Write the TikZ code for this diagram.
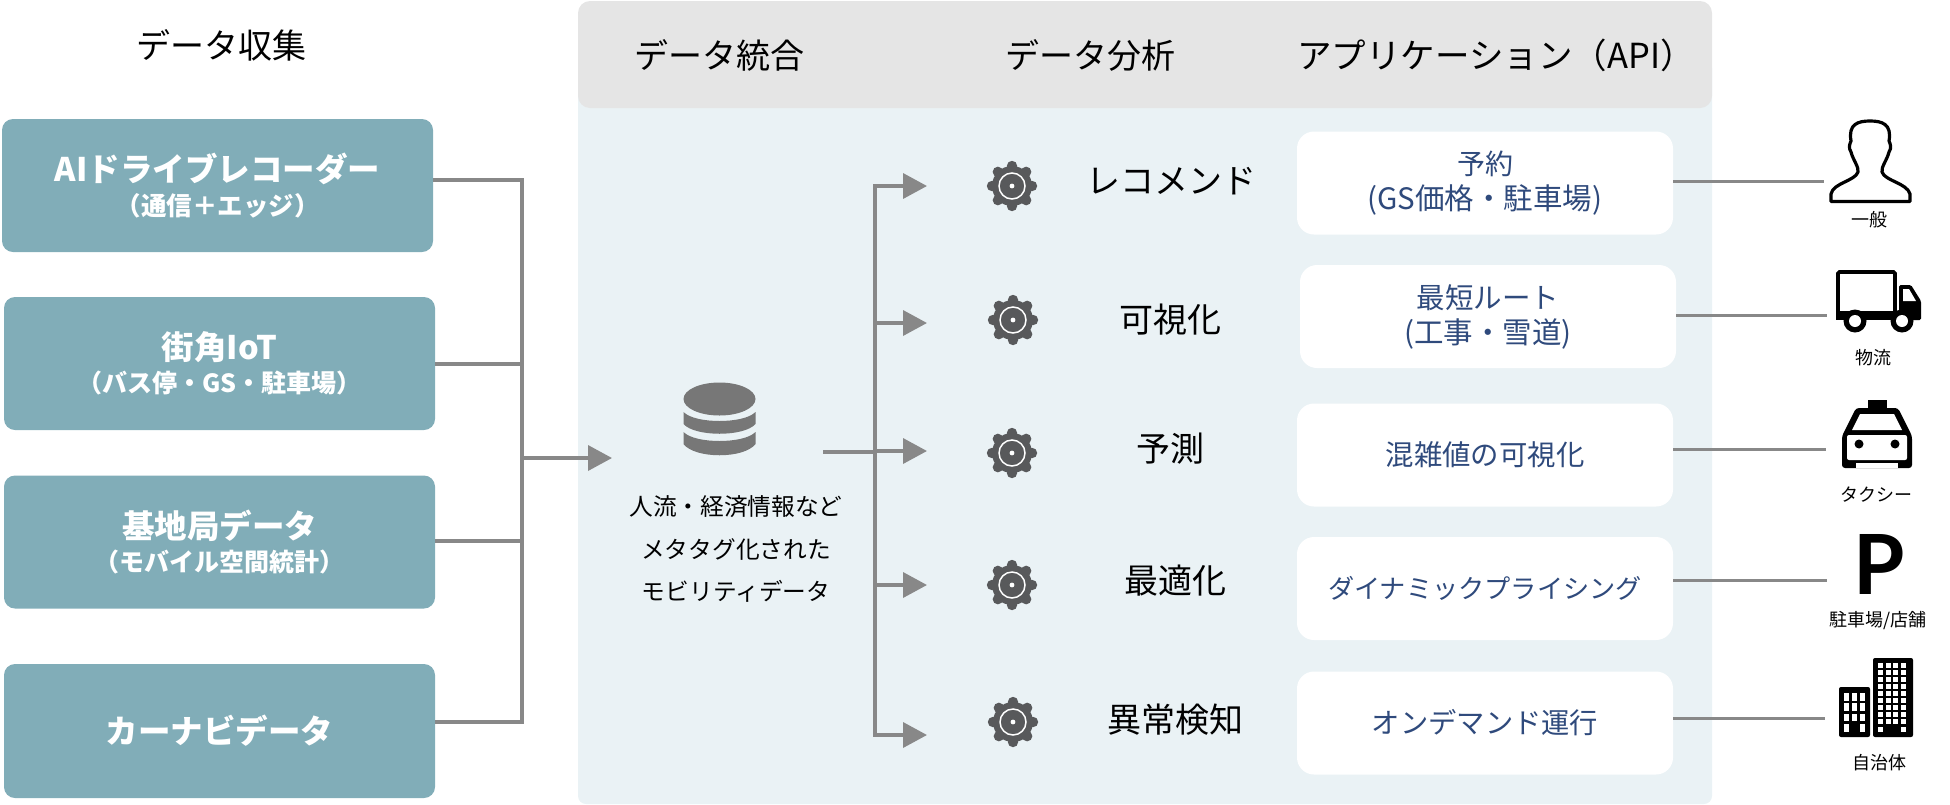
\documentclass[tikz,border=0pt]{standalone}
\usepackage{fontspec}
\setmainfont{Noto Sans CJK JP}
\newfontfamily\pfont{Lato}
\usetikzlibrary{arrows.meta}
\definecolor{teal1}{HTML}{81ADB8}
\definecolor{panel}{HTML}{EAF2F5}
\definecolor{head}{HTML}{E5E5E5}
\definecolor{conn}{HTML}{888888}
\definecolor{navy}{HTML}{2F4A7C}
\definecolor{gearc}{HTML}{58595B}
\definecolor{dbc}{HTML}{777777}
\newcommand{\fz}[2]{\fontsize{#1}{#2}\selectfont}
\tikzset{
  srcbox/.style={fill=teal1,rounded corners=11,minimum width=431,minimum height=133,inner sep=0,align=center,text=white,font=\bfseries},
  appbox/.style={fill=white,rounded corners=17,minimum width=376,minimum height=103,inner sep=0,align=center,text=navy},
  conn/.style={draw=conn,line width=3.6},
  thin conn/.style={draw=conn,line width=3},
  arrow/.style={conn,-{Triangle[length=24,width=25]}},
  title/.style={font=\fz{34}{40},text=black,inner sep=0},
  tag/.style={font=\fz{18}{22},text=black,inner sep=0},
  gearicon/.pic={
    \foreach \a in {0,45,...,315}{\fill[gearc] (\a:20) circle (5.2);}
    \fill[gearc] (0,0) circle (20);
    \draw[white,line width=1.5] (0,0) circle (13);
    \fill[white] (0,0) circle (2.4);
  }
}
\begin{document}
\begin{tikzpicture}[x=1pt,y=-1pt]
\useasboundingbox (0,0) rectangle (1950,804);
% panel
\fill[panel,rounded corners=8] (578,60) rectangle (1712,804);
\fill[head,rounded corners=12] (578,1) rectangle (1712,108);
% titles
\node[title] (t1) at (221,45) {データ収集};
\node[title] (t2) at (719,55) {データ統合};
\node[title] (t3) at (1090,55) {データ分析};
\node[title,font=\fz{34.5}{40}] (t4) at (1496,55) {アプリケーション（API）};
% source boxes
\node[srcbox] (s1) at (217.5,185.5) {\fz{32.5}{36}AIドライブレコーダー\\[7pt]\fz{25.5}{36}（通信＋エッジ）};
\node[srcbox] (s2) at (219.5,363.5) {\fz{32.5}{36}街角IoT\\[7pt]\fz{25}{36}（バス停・GS・駐車場）};
\node[srcbox] (s3) at (219.5,542) {\fz{32.5}{36}基地局データ\\[7pt]\fz{25}{36}（モバイル空間統計）};
\node[srcbox,minimum height=134] (s4) at (219.5,731) {\fz{32.5}{36}カーナビデータ};
% collector
\coordinate (c1) at (522,180);
\coordinate (c2) at (522,364);
\coordinate (c3) at (522,541);
\coordinate (c4) at (522,722);
\coordinate (cm) at (522,458);
\coordinate (ci) at (612,458);
\draw[conn] (s1.east |- c1) -- (c1) -- (c4) -- (s4.east |- c4);
\draw[conn] (s2.east |- c2) -- (c2);
\draw[conn] (s3.east |- c3) -- (c3);
\draw[arrow] (cm) -- (ci);
% database
\fill[dbc] (719.5,399) ellipse (36 and 16.5);
\fill[dbc] (683.5,412) .. controls (695,424) and (744,424) .. (755.5,412) -- (755.5,424) .. controls (744,437) and (695,437) .. (683.5,424) -- cycle;
\fill[dbc] (683.5,432) .. controls (695,444) and (744,444) .. (755.5,432) -- (755.5,444) .. controls (744,459) and (695,459) .. (683.5,444) -- cycle;
\node[inner sep=0,align=center,font=\fz{23.7}{42.5},text=black] (db) at (736,549) {人流・経済情報など\\メタタグ化された\\モビリティデータ};
% analysis connectors
\coordinate (d0) at (823,452);
\coordinate (dt) at (875,186);
\coordinate (db2) at (875,735);
\coordinate (dm) at (875,452);
\coordinate (a1) at (927,186);
\coordinate (a2) at (927,323);
\coordinate (a3) at (927,451);
\coordinate (a4) at (927,585);
\coordinate (a5) at (927,735);
\draw[conn] (d0) -- (dm);
\draw[conn] (a1) ++(-24,0) -- (dt) -- (db2) -- ++(28,0);
\draw[arrow] (dt |- a1) -- (a1);
\draw[arrow] (dt |- a2) -- (a2);
\draw[arrow] (dt |- a3) -- (a3);
\draw[arrow] (dt |- a4) -- (a4);
\draw[arrow] (dt |- a5) -- (a5);
% gears
\pic at (1012,186) {gearicon};
\pic at (1013,320) {gearicon};
\pic at (1012,453) {gearicon};
\pic at (1012,585) {gearicon};
\pic at (1013,722) {gearicon};
% analysis labels
\node[title] (n1) at (1171,181) {レコメンド};
\node[title] (n2) at (1170,320) {可視化};
\node[title] (n3) at (1170,449) {予測};
\node[title] (n4) at (1175,581) {最適化};
\node[title] (n5) at (1175,720) {異常検知};
% application boxes
\node[appbox,align=center] (b1) at (1485,183) {\fz{28}{34}予約\\[7pt]\fz{29.5}{34}(GS価格・駐車場)};
\node[appbox,align=center] (b2) at (1488,316.5) {\fz{28.5}{34}最短ルート\\[7pt]\fz{29.5}{34}(工事・雪道)};
\node[appbox,font=\fz{28.4}{34}] (b3) at (1485,455) {混雑値の可視化};
\node[appbox,font=\fz{26.2}{34}] (b4) at (1485,588.5) {ダイナミックプライシング};
\node[appbox,font=\fz{28.3}{34}] (b5) at (1485,723) {オンデマンド運行};
% lines to users
\coordinate (u1) at (1824,181);
\coordinate (u2) at (1827,315);
\coordinate (u3) at (1826,449);
\coordinate (u4) at (1827,580);
\coordinate (u5) at (1825,718);
\draw[thin conn] (b1.east |- u1) -- (u1);
\draw[thin conn] (b2.east |- u2) -- (u2);
\draw[thin conn] (b3.east |- u3) -- (u3);
\draw[thin conn] (b4.east |- u4) -- (u4);
\draw[thin conn] (b5.east |- u5) -- (u5);
% person
\draw[black,line width=3.2,line join=round,fill=white] (1831,201.5) -- (1831,194)
  .. controls (1833,183) and (1855,181) .. (1858,172)
  .. controls (1859,167) and (1853,160) .. (1851,152)
  .. controls (1848,148) and (1850,143) .. (1851,141)
  .. controls (1848,124) and (1858,121) .. (1870,121)
  .. controls (1882,121) and (1892,124) .. (1889,141)
  .. controls (1890,143) and (1892,148) .. (1889,152)
  .. controls (1887,160) and (1881,167) .. (1882,172)
  .. controls (1885,181) and (1907,183) .. (1910,194)
  -- (1910,201.5) -- cycle;
\node[tag] (l1) at (1869,220) {一般};
% truck
\draw[black,line width=3.6,fill=white,rounded corners=1.5] (1838,272) rectangle (1895,316);
\fill[black] (1836,311) rectangle (1897,320);
\fill[black,rounded corners=1.5] (1899,285) -- (1911,285) -- (1921,301) -- (1921,320) -- (1899,320) -- cycle;
\fill[white] (1903,289) -- (1909,289) -- (1916,301) -- (1903,301) -- cycle;
\fill[black] (1855,321) circle (11.5);
\fill[black] (1902,321) circle (11.5);
\fill[white] (1855,321) circle (6);
\fill[white] (1902,321) circle (6);
\node[tag] (l2) at (1873,358) {物流};
% taxi
\fill[black] (1868,400) rectangle (1887,412);
\fill[black,rounded corners=3] (1856,408) -- (1898,408) -- (1912,436) -- (1912,468) -- (1842,468) -- (1842,436) -- cycle;
\fill[white] (1860,414) -- (1894,414) -- (1902,430) -- (1852,430) -- cycle;
\fill[white,rounded corners=2] (1847,435) rectangle (1907,460);
\fill[black] (1859,444) circle (4.5);
\fill[black] (1895,444) circle (4.5);
\fill[white] (1856,463) rectangle (1898,468);
\node[tag] (l3) at (1876,495) {タクシー};
% parking
\node[inner sep=0,font=\pfont\bfseries\fz{83}{90},text=black] (p) at (1879,564) {P};
\node[tag] (l4) at (1878,621) {駐車場/店舗};
% buildings
\fill[black,rounded corners=2] (1839,687) rectangle (1870,737);
\fill[black,rounded corners=2] (1873,658) rectangle (1913,737);
\foreach \c in {0,1,2}{\foreach \r in {0,1,2}{\fill[white] (1843.5+\c*8,693+\r*10.3) rectangle ++(5.6,7.5);}}
\fill[white] (1843.5,724) rectangle ++(5.6,7.5);
\fill[white] (1859.5,724) rectangle ++(5.6,7.5);
\foreach \c in {0,1,2,3}{\foreach \r in {0,1,...,8}{\fill[white] (1878+\c*7.7,663+\r*7) rectangle ++(5,4.7);}}
\fill[white] (1878,727) rectangle ++(5,5);
\fill[white] (1901.1,727) rectangle ++(5,5);
\node[tag] (l5) at (1879,763) {自治体};
\end{tikzpicture}
\end{document}
